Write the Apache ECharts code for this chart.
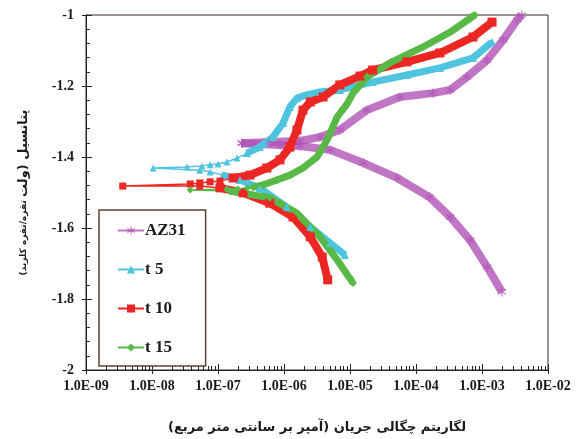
<!DOCTYPE html>
<html>
<head>
<meta charset="utf-8">
<script src="https://cdn.jsdelivr.net/npm/echarts@6/dist/echarts.min.js"></script>
<style>
html, body { margin: 0; padding: 0; background: #fff; }
#main { width: 579px; height: 439px; }
</style>
</head>
<body>
<div id="main"></div>
<script>
// [current density (A/cm2), potential (V vs Ag/AgCl)]
var az31Ecorr = [[2.3e-7, -1.361]];
var az31Anodic = [[6.1e-7, -1.358], [1.75e-6, -1.355], [3.5e-6, -1.344], [7.0e-6, -1.324], [1.8e-5, -1.268],
    [5.7e-5, -1.231], [1.8e-4, -1.220], [3.3e-4, -1.211], [5.9e-4, -1.175], [1.2e-3, -1.127],
    [2.1e-3, -1.070], [3.4e-3, -1.014], [4.0e-3, -1.0]];
var az31Cathodic = [[8.7e-7, -1.366], [1.75e-6, -1.369], [5.0e-6, -1.380], [1.6e-5, -1.417], [5.2e-5, -1.459],
    [1.6e-4, -1.513], [3.3e-4, -1.569], [6.6e-4, -1.634], [1.2e-3, -1.710], [2.0e-3, -1.780]];

var t5Ecorr = [[1.19e-7, -1.451], [7.6e-8, -1.442], [5.3e-8, -1.437], [1.04e-8, -1.431], [3.4e-8, -1.428],
    [5.7e-8, -1.425], [7.6e-8, -1.422], [1.0e-7, -1.420], [1.37e-7, -1.414], [1.94e-7, -1.403], [2.75e-7, -1.389]];
var t5Anodic = [[4.3e-7, -1.372], [6.8e-7, -1.344], [9.7e-7, -1.304], [1.23e-6, -1.259], [1.57e-6, -1.234],
    [2.2e-6, -1.225], [3.5e-6, -1.217], [7.0e-6, -1.211], [2.2e-5, -1.189], [7.3e-5, -1.169],
    [2.3e-4, -1.149], [7.3e-4, -1.121], [1.42e-3, -1.076]];
var t5Cathodic = [[2.15e-7, -1.465], [4.3e-7, -1.487], [1.1e-6, -1.541], [2.5e-6, -1.597], [5.0e-6, -1.642],
    [8.4e-6, -1.676]];

var t10Ecorr = [[1.07e-7, -1.487], [5.3e-8, -1.482], [3.6e-9, -1.482], [3.8e-8, -1.476], [5.3e-8, -1.473],
    [7.6e-8, -1.470], [1.07e-7, -1.468], [1.69e-7, -1.459]];
var t10Anodic = [[3.05e-7, -1.451], [5.5e-7, -1.431], [8.7e-7, -1.408], [1.23e-6, -1.372], [1.57e-6, -1.324],
    [1.94e-6, -1.268], [2.5e-6, -1.245], [3.9e-6, -1.231], [7.0e-6, -1.197], [1.42e-5, -1.172],
    [2.2e-5, -1.155], [7.3e-5, -1.132], [2.3e-4, -1.107], [7.3e-4, -1.062], [1.42e-3, -1.020]];
var t10Cathodic = [[2.4e-7, -1.501], [6.1e-7, -1.530], [1.37e-6, -1.569], [2.5e-6, -1.625], [3.8e-6, -1.682],
    [4.6e-6, -1.746]];

var t15Ecorr = [[1.52e-7, -1.496], [3.8e-8, -1.493], [1.37e-7, -1.490], [2.0e-7, -1.490], [2.75e-7, -1.487],
    [3.4e-7, -1.485]];
var t15Anodic = [[4.8e-7, -1.479], [7.8e-7, -1.465], [1.23e-6, -1.451], [1.94e-6, -1.431], [3.16e-6, -1.400],
    [4.5e-6, -1.352], [6.4e-6, -1.287], [9.0e-6, -1.251], [1.11e-5, -1.220], [1.81e-5, -1.175],
    [4.0e-5, -1.135], [1.28e-4, -1.090], [3.3e-4, -1.048], [7.8e-4, -1.0]];
var t15Cathodic = [[6.1e-7, -1.515], [1.57e-6, -1.558], [3.5e-6, -1.625], [6.4e-6, -1.690], [1.11e-5, -1.755]];

var sampleNames = ['AZ31', 't 5', 't 10', 't 15'];
var xAxisName = '\u200Fلگاریتم چگالی جریان (آمپر بر سانتی متر مربع)\u200F';
var yNameMain = '\u200Fپتانسیل (ولت\u200F';
var yNameSub = '\u200Fنقره/نقره کلرید)\u200F';

var starPath = 'path://M4.4 0 L5.6 0 L5.6 3.9 L9 1.9 L9.6 3 L6.2 5 L9.6 7 L9 8.1 L5.6 6.1 L5.6 10 L4.4 10 L4.4 6.1 L1 8.1 L0.4 7 L3.8 5 L0.4 3 L1 1.9 L4.4 3.9 Z';

var series = [];
function addSample(name, color, symbol, ecorr, anodic, cathodic, width, opacity) {
    var common = {
        name: name,
        type: 'line',
        symbol: symbol,
        itemStyle: { color: color, opacity: opacity },
        z: 2
    };
    series.push(Object.assign({}, common, {
        data: ecorr,
        symbolSize: 7,
        lineStyle: { color: color, width: 1.5, opacity: opacity }
    }));
    series.push(Object.assign({}, common, {
        data: [ecorr[ecorr.length - 1]].concat(anodic),
        symbolSize: width + 1,
        lineStyle: { color: color, width: width, opacity: opacity }
    }));
    series.push(Object.assign({}, common, {
        data: [ecorr[0]].concat(cathodic),
        symbolSize: width + 1,
        lineStyle: { color: color, width: width, opacity: opacity }
    }));
}
addSample(sampleNames[0], '#b054b6', starPath, az31Ecorr, az31Anodic, az31Cathodic, 8, 0.8);
addSample(sampleNames[1], '#4fc4df', 'triangle', t5Ecorr, t5Anodic, t5Cathodic, 7, 1);
addSample(sampleNames[2], '#ec2622', 'rect', t10Ecorr, t10Anodic, t10Cathodic, 8, 1);
addSample(sampleNames[3], '#58b947', 'diamond', t15Ecorr, t15Anodic, t15Cathodic, 7, 1);

var labelFont = { fontFamily: 'Liberation Serif', fontWeight: 'bold', fontSize: 14, color: '#1a1a1a' };
var tickLine = { color: '#222', width: 1 };

var myChart = echarts.init(document.getElementById('main'));
var option = {
    animation: false,
    backgroundColor: '#fff',
    grid: {
        left: 86, right: 31, top: 15, bottom: 69,
        show: true, borderColor: '#3a2626', borderWidth: 1
    },
    legend: {
        data: sampleNames,
        orient: 'vertical',
        left: 99, top: 210,
        padding: [12, 20, 10, 18],
        itemGap: 22,
        itemWidth: 26, itemHeight: 10,
        borderColor: '#5b4038', borderWidth: 1.5,
        backgroundColor: '#fff',
        textStyle: { fontFamily: 'Liberation Serif', fontWeight: 'bold', fontSize: 17, color: '#1a1a1a', padding: [0, 0, 0, -4] }
    },
    xAxis: [{
        type: 'log',
        logBase: 10,
        min: 1e-9,
        max: 1e-2,
        splitNumber: 7,
        position: 'bottom',
        name: xAxisName,
        nameLocation: 'middle',
        nameGap: 51,
        nameTextStyle: { fontFamily: 'DejaVu Sans', fontWeight: 'bold', fontSize: 13, color: '#1a1a1a' },
        axisLine: { lineStyle: tickLine },
        axisTick: { inside: true, length: 6, lineStyle: tickLine },
        minorTick: { show: true, splitNumber: 9, length: 4, lineStyle: tickLine },
        splitLine: { show: false },
        axisLabel: Object.assign({
            margin: 9,
            formatter: function (v) {
                var p = Math.round(Math.log(v) / Math.LN10);
                var s = String(Math.abs(p));
                if (s.length < 2) s = '0' + s;
                return '1.0E' + (p < 0 ? '-' : '+') + s;
            }
        }, labelFont)
    }, {
        // outer half of the major ticks (decade units)
        type: 'value',
        min: -9,
        max: -2,
        interval: 1,
        position: 'bottom',
        offset: 0,
        axisLine: { show: false },
        axisTick: { show: true, inside: false, length: 4, lineStyle: tickLine },
        axisLabel: { show: false },
        splitLine: { show: false }
    }],
    yAxis: [{
        type: 'value',
        min: -2,
        max: -1,
        interval: 0.2,
        position: 'left',
        name: '{b|' + yNameSub + '} {a|' + yNameMain + '}',
        nameLocation: 'middle',
        nameRotate: 90,
        nameGap: 56,
        nameTextStyle: {
            color: '#1a1a1a',
            rich: {
                a: { fontFamily: 'DejaVu Sans', fontWeight: 'bold', fontSize: 13, color: '#1a1a1a' },
                b: { fontFamily: 'DejaVu Sans', fontWeight: 'bold', fontSize: 9, color: '#1a1a1a' }
            }
        },
        axisLine: { show: true, lineStyle: tickLine },
        axisTick: { show: true, inside: true, length: 6, lineStyle: tickLine },
        minorTick: { show: true, splitNumber: 5, length: 4, lineStyle: tickLine },
        splitLine: { show: false },
        axisLabel: Object.assign({ margin: 12 }, labelFont)
    }, {
        // outer half of the major ticks
        type: 'value',
        min: -2,
        max: -1,
        interval: 0.2,
        position: 'left',
        offset: 0,
        axisLine: { show: false },
        axisTick: { show: true, inside: false, length: 4, lineStyle: tickLine },
        axisLabel: { show: false },
        splitLine: { show: false }
    }],
    series: series
};
myChart.setOption(option);
</script>
</body>
</html>
